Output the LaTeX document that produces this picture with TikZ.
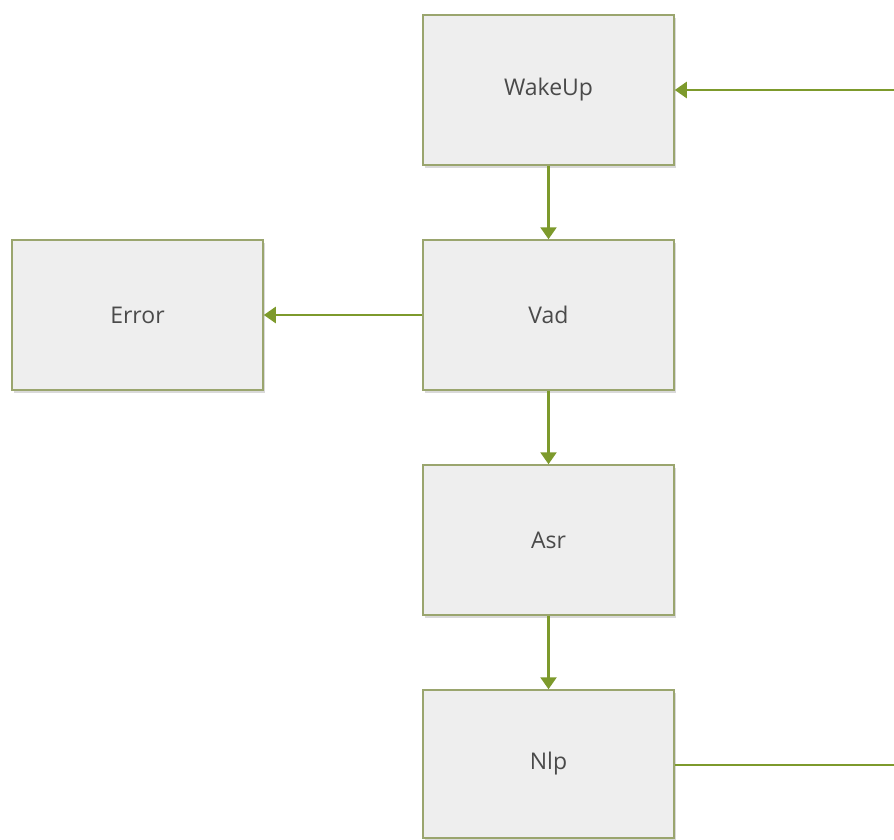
\documentclass[tikz,border=0pt]{standalone}
\usepackage{fontspec}
\setmainfont{Open Sans}
\usetikzlibrary{arrows.meta,shadows,patterns}
\definecolor{boxfill}{HTML}{EEEEEE}
\definecolor{boxline}{HTML}{9AA56E}
\definecolor{arrowc}{HTML}{7D9A2C}
\definecolor{txt}{HTML}{4A4A4A}
\begin{document}
\begin{tikzpicture}[x=1pt,y=-1pt,
  statebox/.style={draw=boxline,line width=1.5pt,fill=boxfill,minimum width=251pt,minimum height=150pt,
    inner sep=0pt,font=\fontsize{23}{26}\selectfont,text=txt,
    drop shadow={shadow xshift=2pt,shadow yshift=-3pt,opacity=0.3}},
  conn/.style={draw=arrowc,line width=2.5pt,-{Triangle[length=12pt,width=16pt]}},
  plain/.style={draw=arrowc,line width=2.5pt}]
\useasboundingbox (0,0) rectangle (894,840);
\node[statebox] (wake) at (548.5,90) {WakeUp};
\node[statebox] (vad) at (548.5,315) {Vad};
\node[statebox] (err) at (137.5,315) {Error};
\node[statebox] (asr) at (548.5,540) {Asr};
\node[statebox,minimum height=148pt] (nlp) at (548.5,764) {Nlp};
\coordinate (inR) at (894,90);
\coordinate (outR) at (894,765);
\draw[conn] (inR) -- (wake.east);
\draw[conn] (wake.south) -- (vad.north);
\draw[conn] (vad.west) -- (err.east);
\draw[conn] (vad.south) -- (asr.north);
\draw[conn] (asr.south) -- (nlp.north);
\draw[plain] (nlp.east |- outR) -- (outR);
\end{tikzpicture}
\end{document}
